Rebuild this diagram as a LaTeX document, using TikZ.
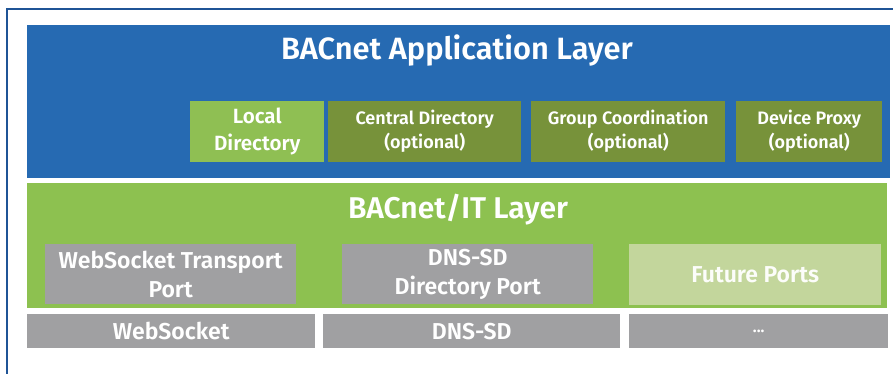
\documentclass[tikz,border=0pt]{standalone}
\usepackage{fontspec}
\setmainfont{Fira Sans}[BoldFont={Fira Sans SemiBold}]
\definecolor{appblue}{RGB}{38,106,178}
\definecolor{itgreen}{RGB}{141,193,80}
\definecolor{localgreen}{RGB}{143,191,83}
\definecolor{optolive}{RGB}{119,146,58}
\definecolor{portgrey}{RGB}{160,160,162}
\definecolor{futuregreen}{RGB}{195,214,156}
\definecolor{frameblue}{RGB}{31,84,150}
\tikzset{
  layer/.style={anchor=north west,inner sep=0pt},
  box/.style={anchor=north west,inner sep=0pt,align=center,text=white,font=\bfseries},
  title/.style={anchor=base,inner sep=0pt,text=white,font=\bfseries}
}

\begin{document}
\begin{tikzpicture}[x=1pt,y=-1pt]
	\useasboundingbox (0,0) rectangle (893,374);
	\fill[white] (0,0) rectangle (893,374);
	% Frame
	\draw[frameblue,line width=1.2pt] (7,374) -- (7,9) -- (893,9);
	% Layers
	\node[layer,fill=appblue,minimum width=863pt,minimum height=153pt] (app) at (27,25) {};
	\node[layer,fill=itgreen,minimum width=860pt,minimum height=125pt] (it) at (27,183) {};
	\node[title,font=\fontsize{30.8}{36}\selectfont\bfseries] (apptitle) at (457,60) {BACnet Application Layer};
	\node[title,font=\fontsize{30}{36}\selectfont\bfseries] (ittitle) at (458,218) {BACnet/IT Layer};
	% Application boxes
	\node[box,fill=localgreen,minimum width=134pt,minimum height=61pt,font=\fontsize{20.6}{27}\selectfont\bfseries] (local) at (190,101) {Local\\Directory};
	\node[box,fill=optolive,minimum width=193pt,minimum height=61pt,font=\fontsize{18}{24}\selectfont\bfseries] (central) at (328,101) {Central Directory\\(optional)};
	\node[box,fill=optolive,minimum width=194pt,minimum height=61pt,font=\fontsize{18}{24}\selectfont\bfseries] (group) at (531,101) {Group Coordination\\(optional)};
	\node[box,fill=optolive,minimum width=146pt,minimum height=61pt,font=\fontsize{18}{24}\selectfont\bfseries] (proxy) at (736,101) {Device Proxy\\(optional)};
	% Ports
	\node[box,fill=portgrey,minimum width=251pt,minimum height=60pt,font=\fontsize{23}{29}\selectfont\bfseries] (wsport) at (45,244) {WebSocket Transport\\Port};
	\node[box,fill=portgrey,minimum width=251pt,minimum height=60pt,font=\fontsize{23}{29}\selectfont\bfseries] (dnsport) at (342,244) {DNS-SD\\Directory Port};
	\node[box,fill=futuregreen,minimum width=252pt,minimum height=61pt,text=white!95!futuregreen,font=\fontsize{23}{28}\selectfont\bfseries] (future) at (629,244) {Future Ports};
	% Transports
	\node[box,fill=portgrey,minimum width=288pt,minimum height=34pt,font=\fontsize{23}{27}\selectfont\bfseries] (ws) at (27,314) {WebSocket};
	\node[box,fill=portgrey,minimum width=297pt,minimum height=34pt,font=\fontsize{23}{27}\selectfont\bfseries] (dnssd) at (323,314) {DNS-SD};
	\node[box,fill=portgrey,minimum width=259pt,minimum height=34pt,font=\fontsize{16}{20}\selectfont\bfseries] (more) at (629,314) {...};
\end{tikzpicture}
\end{document}
